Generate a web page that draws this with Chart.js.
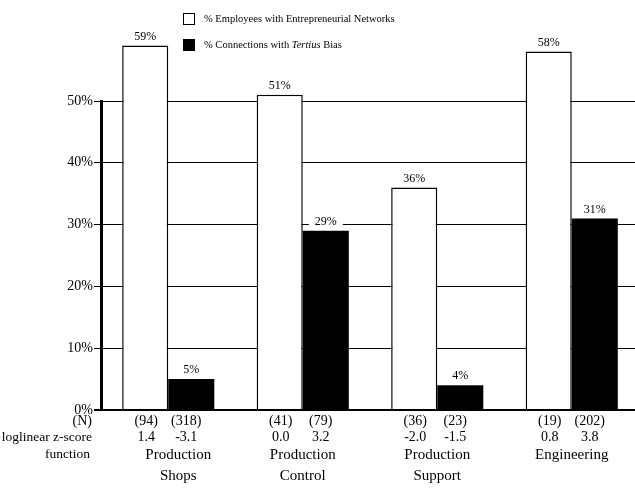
<!DOCTYPE html>
<html>
<head>
<meta charset="utf-8">
<script src="https://cdn.jsdelivr.net/npm/chart.js@4/dist/chart.umd.min.js"></script>
<style>
  html,body{margin:0;padding:0;background:#fff;overflow:hidden;}
  canvas{display:block;}
</style>
</head>
<body>
<canvas id="c" width="639" height="493"></canvas>
<script>
// --- data ---
const categories=[['Production','Shops'],['Production','Control'],['Production','Support'],['Engineering']];
const employeesPct=[59,51,36,58];     // % employees with entrepreneurial networks
const connectionsPct=[5,29,4,31];     // % connections with tertius bias
const nEmployees=['(94)','(41)','(36)','(19)'];
const nConnections=['(318)','(79)','(23)','(202)'];
const zEmployees=['1.4','0.0','-2.0','0.8'];
const zConnections=['-3.1','3.2','-1.5','3.8'];
const yTicks=[0,10,20,30,40,50];

const SERIF='"Liberation Serif","DejaVu Serif",serif';

// value labels on top of bars (white patch breaks the grid line)
const valueLabels={
  id:'valueLabels',
  afterDatasetsDraw(chart){
    const c=chart.ctx;
    c.save();
    c.font='12px '+SERIF;
    c.textAlign='center'; c.textBaseline='middle';
    chart.data.datasets.forEach((ds,di)=>{
      chart.getDatasetMeta(di).data.forEach((bar,i)=>{
        const t=ds.data[i]+'%', w=c.measureText(t).width, y=bar.y-9;
        c.fillStyle='#fff'; c.fillRect(bar.x-w/2-6,y-6,w+12,12);
        c.fillStyle='#000'; c.fillText(t,bar.x,y);
      });
    });
    c.restore();
  }
};

// legend, drawn over the plot like the original
const legendBox={
  id:'legendBox',
  afterDraw(chart){
    const c=chart.ctx;
    c.save();
    c.lineWidth=1; c.strokeStyle='#000';
    c.fillStyle='#fff'; c.fillRect(183.5,13.5,11,11); c.strokeRect(183.5,13.5,11,11);
    c.fillStyle='#000'; c.fillRect(183,39,12,12);
    c.textBaseline='middle'; c.textAlign='left';
    c.font='10.5px '+SERIF;
    c.fillText('% Employees with Entrepreneurial Networks',204,19);
    let x=204;
    const parts=[['% Connections with ',''],['Tertius','italic '],[' Bias','']];
    parts.forEach(([t,st])=>{
      c.font=st+'10.5px '+SERIF;
      c.fillText(t,x,45.5);
      x+=c.measureText(t).width;
    });
    c.restore();
  }
};

// row captions and per-bar numbers under the axis
const bottomTable={
  id:'bottomTable',
  afterDraw(chart){
    const c=chart.ctx;
    const m0=chart.getDatasetMeta(0).data, m1=chart.getDatasetMeta(1).data;
    const xs=chart.scales.x;
    c.save();
    c.fillStyle='#000'; c.textBaseline='middle';
    c.textAlign='right';
    c.font='14px '+SERIF; c.fillText('(N)',92,421);
    c.font='13.5px '+SERIF; c.fillText('loglinear z-score',92,437);
    c.fillText('function',90,454);
    c.textAlign='center';
    categories.forEach((cat,i)=>{
      c.font='14px '+SERIF;
      c.fillText(nEmployees[i],m0[i].x+1,421);
      c.fillText(nConnections[i],m1[i].x-5,421);
      c.fillText(zEmployees[i],m0[i].x+1,437);
      c.fillText(zConnections[i],m1[i].x-5,437);
      c.font='15px '+SERIF;
      // first group is pushed right, clear of the row captions
      const cx=xs.getPixelForValue(i)+(i===0?10:0);
      cat.forEach((line,k)=>c.fillText(line,cx,455+k*21));
    });
    c.restore();
  }
};

new Chart(document.getElementById('c'),{
  type:'bar',
  data:{
    labels:categories.map(c=>c.join(' ')),
    datasets:[
      {label:'% Employees with Entrepreneurial Networks',data:employeesPct,
       backgroundColor:'#fff',borderColor:'#000',borderWidth:1.5,clip:false},
      {label:'% Connections with Tertius Bias',data:connectionsPct,
       backgroundColor:'#000',borderColor:'#000',borderWidth:0,clip:false}
    ]
  },
  options:{
    responsive:false,animation:false,
    layout:{padding:{top:101,bottom:83,left:0,right:0}},
    datasets:{bar:{categoryPercentage:0.685,barPercentage:1}},
    plugins:{legend:{display:false},tooltip:{enabled:false}},
    scales:{
      x:{display:false},
      y:{
        min:0,max:50,
        afterFit:s=>{s.width=101;},
        afterBuildTicks:s=>{s.ticks=yTicks.map(v=>({value:v}));},
        border:{display:true,color:'#000',width:3},
        grid:{color:'#000',lineWidth:ctx=>ctx.tick&&ctx.tick.value===0?2:1,
              tickLength:7,drawTicks:true},
        ticks:{color:'#000',padding:1,font:{family:SERIF,size:14},callback:v=>v+'%'}
      }
    }
  },
  plugins:[valueLabels,legendBox,bottomTable]
});
</script>
</body>
</html>
